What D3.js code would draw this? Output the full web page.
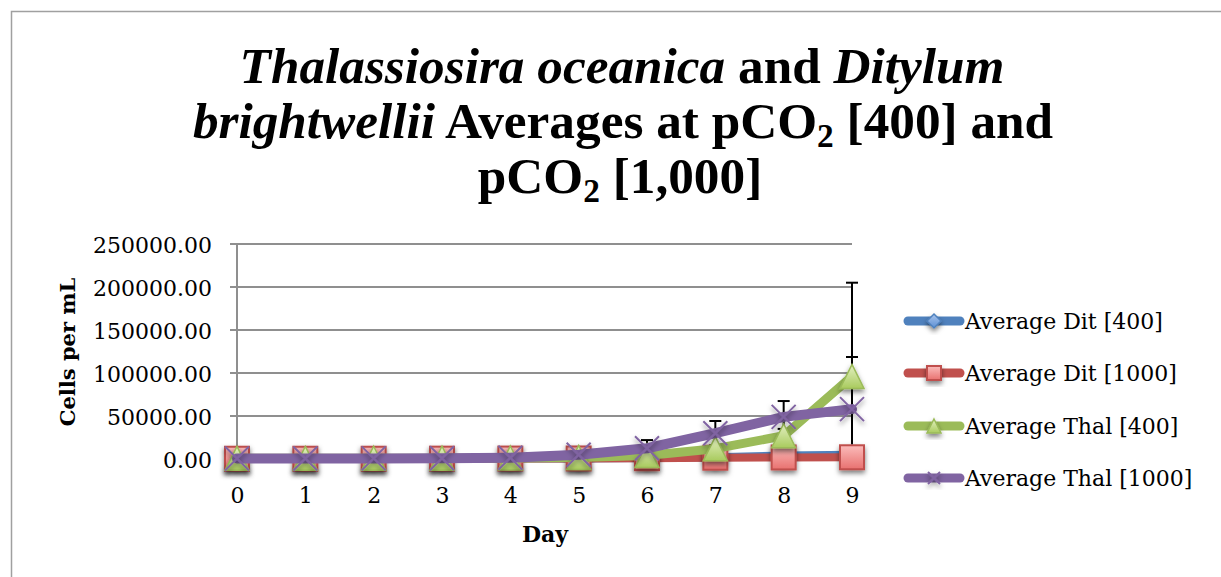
<!DOCTYPE html>
<html>
<head>
<meta charset="utf-8">
<script src="https://cdn.jsdelivr.net/npm/d3@7"></script>
<style>
  html, body { margin: 0; padding: 0; background: #fff; }
  svg { display: block; }
  text { font-family: "DejaVu Serif", "Liberation Serif", serif; fill: #000; }
</style>
</head>
<body>
<svg id="chart" width="1221" height="577"></svg>
<script>
// ---------- data ----------
const days = [0, 1, 2, 3, 4, 5, 6, 7, 8, 9];
const seriesNames = ["Average Dit [400]", "Average Dit [1000]", "Average Thal [400]", "Average Thal [1000]"];
const ditAvg400  = [300, 300, 300, 400, 500, 700, 1200, 2000, 4000, 5000];
const ditAvg1000 = [300, 300, 300, 400, 500, 600, 1000, 1500, 1800, 2000];
const thalAvg400  = [800, 800, 900, 1000, 1200, 1800, 4000, 12000, 27000, 96000];
const thalAvg1000 = [500, 600, 700, 900, 1500, 5000, 12500, 30000, 49000, 58000];
const ditErr400  = [0, 0, 0, 0, 0, 0, 0, 0, 0, 0];
const ditErr1000 = [0, 0, 0, 0, 0, 0, 0, 0, 0, 0];
const thalErr400  = [0, 0, 0, 0, 0, 500, 1500, 4000, 8000, 109000];
const thalErr1000 = [0, 0, 0, 0, 500, 2000, 9500, 14200, 18400, 60600];
const yTicks = [0, 50000, 100000, 150000, 200000, 250000];

const svg = d3.select("#chart");

// outer frame
svg.append("rect").attr("x", 11.5).attr("y", 11.5).attr("width", 1240).attr("height", 620)
  .attr("fill", "none").attr("stroke", "#a0a0a0").attr("stroke-width", 1.5);

// defs
const defs = svg.append("defs");
const sh = defs.append("filter").attr("id", "shadow").attr("x", "-50%").attr("y", "-50%").attr("width", "200%").attr("height", "200%");
sh.append("feDropShadow").attr("dx", 0).attr("dy", 3).attr("stdDeviation", 2.5).attr("flood-color", "#000").attr("flood-opacity", 0.5);
function grad(id, c1, c2) {
  const g = defs.append("linearGradient").attr("id", id).attr("x1", 0).attr("y1", 0).attr("x2", 0).attr("y2", 1);
  g.append("stop").attr("offset", "0%").attr("stop-color", c1);
  g.append("stop").attr("offset", "100%").attr("stop-color", c2);
}
grad("gBlue", "#a9c4ec", "#5b8fd4");
grad("gRed", "#fbbcbb", "#e8716f");
grad("gGreen", "#e4f0c3", "#a9cb5e");
const clip = defs.append("clipPath").attr("id", "plotClip");

// scales
const x = d3.scaleLinear().domain([0, 9]).range([237, 852]);
const y = d3.scaleLinear().domain([0, 250000]).range([459, 244]);
clip.append("rect").attr("x", 200).attr("y", y(250000) - 30).attr("width", 700).attr("height", y(0) - y(250000) + 30);

// title
const titleFont = "Liberation Serif";
let tSize = 46;
const title = svg.append("g").attr("font-family", titleFont).attr("font-weight", "bold");
function titleLine(cx, by) {
  return title.append("text").attr("x", cx).attr("y", by).attr("text-anchor", "middle")
    .style("font-family", titleFont).attr("font-size", tSize);
}
const tl1 = titleLine(622, 83);
tl1.append("tspan").attr("font-style", "italic").text("Thalassiosira oceanica");
tl1.append("tspan").text(" and ");
tl1.append("tspan").attr("font-style", "italic").text("Ditylum");
const tl2 = titleLine(623, 138);
tl2.append("tspan").attr("font-style", "italic").text("brightwellii");
tl2.append("tspan").text(" Averages at pCO");
tl2.append("tspan").attr("class", "sub").attr("dy", 9).text("2");
tl2.append("tspan").attr("dy", -9).text(" [400] and");
const tl3 = titleLine(620, 193);
tl3.append("tspan").text("pCO");
tl3.append("tspan").attr("class", "sub").attr("dy", 9).text("2");
tl3.append("tspan").attr("dy", -9).text(" [1,000]");
// size the title so line 1 matches the reference width
const w1 = tl1.node().getComputedTextLength();
tSize = tSize * 765 / w1;
title.selectAll("text").attr("font-size", tSize);
title.selectAll("tspan.sub").attr("font-size", tSize * 0.65);

// gridlines
const grid = svg.append("g");
grid.selectAll("line").data(yTicks).join("line")
  .attr("x1", 230).attr("x2", 852).attr("y1", d => y(d)).attr("y2", d => y(d))
  .attr("stroke", "#8f8f8f").attr("stroke-width", 2);
// y axis line
svg.append("line").attr("x1", x(0)).attr("x2", x(0)).attr("y1", y(250000)).attr("y2", y(0))
  .attr("stroke", "#8f8f8f").attr("stroke-width", 2);

// y axis labels
const yAxis = d3.axisLeft(y).tickValues(yTicks).tickFormat(d3.format(".2f")).tickSize(0).tickPadding(0);
const yg = svg.append("g").attr("transform", "translate(212,0)").call(yAxis);
yg.select(".domain").remove();
yg.selectAll("text").attr("font-size", 22).attr("font-family", "DejaVu Serif").attr("dy", "0.38em").attr("fill", "#000");

// x axis labels
const xAxis = d3.axisBottom(x).tickValues(days).tickFormat(d3.format("d")).tickSize(0).tickPadding(0);
const xg = svg.append("g").attr("transform", "translate(0,487)").call(xAxis);
xg.select(".domain").remove();
xg.selectAll("text").attr("font-size", 22).attr("font-family", "DejaVu Serif").attr("dy", "0.71em").attr("fill", "#000");

// axis titles
svg.append("text").attr("x", 545).attr("y", 542).attr("text-anchor", "middle")
  .attr("font-weight", "bold").attr("font-size", 22).text("Day");
svg.append("text").attr("transform", "translate(75,352) rotate(-90)").attr("text-anchor", "middle")
  .attr("font-weight", "bold").attr("font-size", 21).text("Cells per mL");

// series
const series = [
  { name: seriesNames[0], vals: ditAvg400,  err: ditErr400,  color: "#4f81bd", width: 8,  marker: "diamond" },
  { name: seriesNames[1], vals: ditAvg1000, err: ditErr1000, color: "#c0504d", width: 8,  marker: "square" },
  { name: seriesNames[2], vals: thalAvg400, err: thalErr400, color: "#9bbb59", width: 9,  marker: "triangle" },
  { name: seriesNames[3], vals: thalAvg1000, err: thalErr1000, color: "#8064a2", width: 10, marker: "x" }
];

// error bars
const eb = svg.append("g").attr("clip-path", "url(#plotClip)");
series.forEach(s => {
  const pts = days.map((d, i) => ({ d, v: s.vals[i], e: s.err[i] })).filter(p => p.e > 0);
  const g = eb.append("g").attr("stroke", "#000").attr("stroke-width", 2);
  g.selectAll("line.v").data(pts).join("line").attr("class", "v")
    .attr("x1", p => x(p.d)).attr("x2", p => x(p.d))
    .attr("y1", p => y(p.v + p.e)).attr("y2", p => y(Math.max(p.v - p.e, -2000)));
  g.selectAll("line.c").data(pts).join("line").attr("class", "c")
    .attr("x1", p => x(p.d) - 6).attr("x2", p => x(p.d) + 6)
    .attr("y1", p => y(p.v + p.e)).attr("y2", p => y(p.v + p.e));
});

function drawMarker(g, type, cx, cy, size) {
  const h = size / 2;
  if (type === "square") {
    g.append("rect").attr("x", cx - h).attr("y", cy - h).attr("width", size).attr("height", size)
      .attr("fill", "url(#gRed)").attr("stroke", "#c0504d").attr("stroke-width", 2).attr("filter", "url(#shadow)");
  } else if (type === "diamond") {
    g.append("path").attr("d", `M${cx},${cy - h}L${cx + h},${cy}L${cx},${cy + h}L${cx - h},${cy}Z`)
      .attr("fill", "url(#gBlue)").attr("stroke", "#4f81bd").attr("stroke-width", 1.5).attr("filter", "url(#shadow)");
  } else if (type === "triangle") {
    g.append("path").attr("d", `M${cx},${cy - h}L${cx + h},${cy + h}L${cx - h},${cy + h}Z`)
      .attr("fill", "url(#gGreen)").attr("stroke", "#9bbb59").attr("stroke-width", 1.5).attr("filter", "url(#shadow)");
  } else if (type === "x") {
    g.append("path").attr("d", `M${cx - h},${cy - h}L${cx + h},${cy + h}M${cx + h},${cy - h}L${cx - h},${cy + h}`)
      .attr("stroke", "#8064a2").attr("stroke-width", 2).attr("fill", "none").attr("filter", "url(#shadow)");
  }
}

const lineGen = d3.line().x((v, i) => x(days[i])).y(v => y(v));
series.forEach(s => {
  const g = svg.append("g");
  g.append("path").datum(s.vals).attr("d", lineGen).attr("fill", "none")
    .attr("stroke", s.color).attr("stroke-width", s.width).attr("stroke-linejoin", "round").attr("stroke-linecap", "round");
  s.vals.forEach((v, i) => drawMarker(g, s.marker, x(days[i]), y(v), s.marker === "diamond" ? 20 : 24));
});

// legend
const legendRows = [321, 373, 426, 478];
const lg = svg.append("g");
series.forEach((s, i) => {
  const ry = legendRows[i];
  lg.append("line").attr("x1", 908).attr("x2", 960).attr("y1", ry).attr("y2", ry)
    .attr("stroke", s.color).attr("stroke-width", 9).attr("stroke-linecap", "round");
  drawMarker(lg, s.marker, 934, ry, s.marker === "x" ? 12 : 14);
  lg.append("text").attr("x", 965).attr("y", ry + 8).attr("font-size", 22).text(s.name);
});
</script>
</body>
</html>
